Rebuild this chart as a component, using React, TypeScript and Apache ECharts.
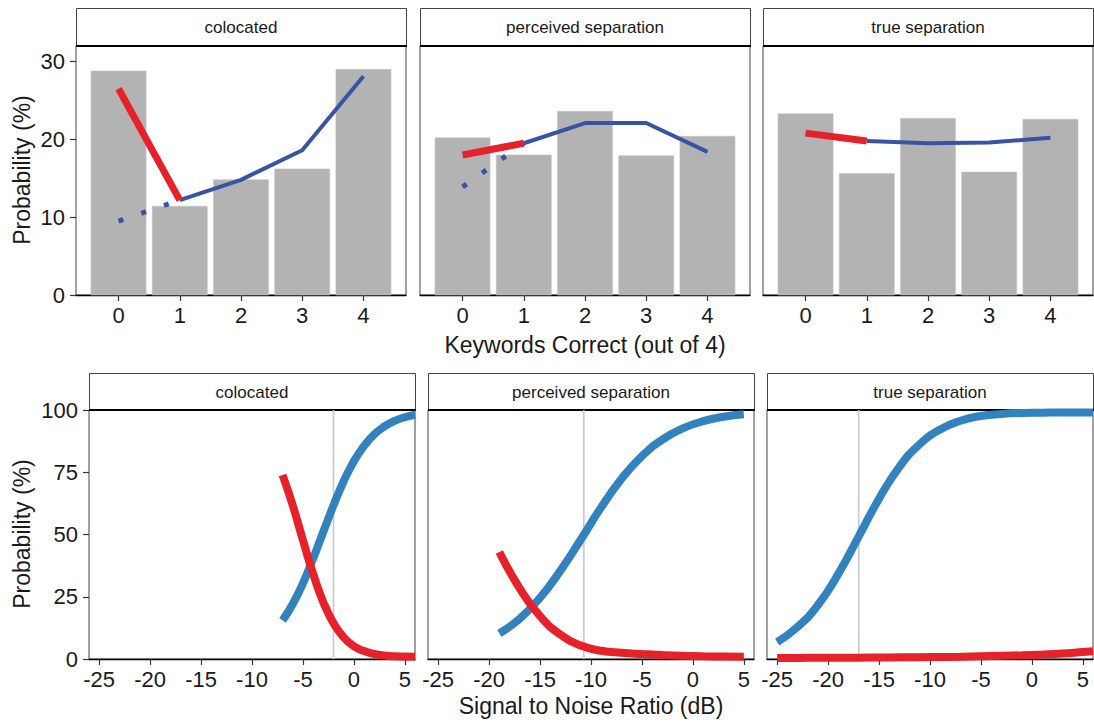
import React, { useEffect, useRef } from "react";
import * as echarts from "echarts";

// ---------- data ----------
const panelNames = ["colocated", "perceived separation", "true separation"];

const keywordCats = [0, 1, 2, 3, 4];
const topYTicks = [0, 10, 20, 30];

const colocatedBars = [28.8, 11.4, 14.8, 16.2, 29.0];
const perceivedBars = [20.2, 18.0, 23.6, 17.9, 20.4];
const trueBars = [23.3, 15.6, 22.7, 15.8, 22.6];

// red segment over keywords 0..1
const redKeys = [0, 1];
const colocatedRed = [26.5, 12.2];
const perceivedRed = [18.0, 19.5];
const trueRed = [20.8, 19.8];

// blue solid over keywords 1..4
const blueKeys = [1, 2, 3, 4];
const colocatedBlue = [12.2, 14.8, 18.6, 28.1];
const perceivedBlue = [19.5, 22.1, 22.1, 18.4];
const trueBlue = [19.8, 19.5, 19.6, 20.2];

// blue dotted over keywords 0..1
const dottedKeys = [0, 1];
const colocatedDotted = [9.5, 12.2];
const perceivedDotted = [13.9, 19.5];

// bottom row: psychometric curves
const snrTicks = [-25, -20, -15, -10, -5, 0, 5];
const bottomYTicks = [0, 25, 50, 75, 100];

const snrColocated = [-7, -6, -5, -4, -3, -2, -1, 0, 1, 2, 3, 4, 5, 6];
const colocatedHigh = [15.5, 22.1, 30.4, 40.3, 51.1, 61.7, 71.4, 79.4, 85.6, 90.2, 93.4, 95.6, 97.1, 98.1];
const colocatedLow = [73.9, 61.7, 47.7, 34.2, 22.8, 14.4, 8.7, 5.1, 3.2, 2.0, 1.4, 1.1, 1.0, 0.9];

const snrPerceived = [-19, -17, -15, -13, -11, -9, -7, -5, -3, -1, 1, 3, 5];
const perceivedHigh = [10.3, 16.2, 24.6, 35.5, 48.0, 60.9, 72.4, 81.5, 88.1, 92.6, 95.5, 97.3, 98.3];
const perceivedLow = [43.0, 28.4, 17.2, 9.8, 5.4, 3.3, 2.5, 2.0, 1.6, 1.3, 1.1, 1.0, 0.9];

const snrTrue = [-25, -23, -21, -19, -17, -15, -13, -11, -9, -7, -5, -3, -1, 1, 3, 5, 6];
const trueHigh = [6.8, 12.9, 21.7, 34.2, 49.2, 64.4, 77.2, 86.3, 92.2, 95.7, 97.6, 98.4, 98.8, 98.9, 99.0, 99.0, 99.0];
const trueLow = [0.4, 0.45, 0.5, 0.5, 0.55, 0.6, 0.7, 0.75, 0.8, 0.9, 1.1, 1.3, 1.5, 1.8, 2.2, 2.8, 3.1];

const thresholds = [-2, -10.7, -17];

// ---------- styles ----------
const FONT = "'Liberation Sans', Arial, sans-serif";
const BAR = "#B3B3B3";
const RED = "#E6212A";
const BLUE_TOP = "#3953A4";
const BLUE_BOT = "#3182BF";
const BORDER = "#444444";
const TEXT = "#1a1a1a";

const topLeft = [76, 420, 763];
const topWidth = 330;
const topStripY = 8;
const topPlotY = 46;
const topPlotH = 249;

const botLeft = [89, 428, 767];
const botWidth = 326;
const botStripY = 373;
const botPlotY = 410;
const botPlotH = 249;

const zip = (xs: number[], ys: number[]) => xs.map((x, i) => [x, ys[i]]);

export default function App() {
  const ref = useRef<HTMLDivElement>(null);

  useEffect(() => {
    if (!ref.current) return;
    const chart = echarts.init(ref.current, null, { renderer: "svg" });

    const grids: any[] = [];
    const xAxes: any[] = [];
    const yAxes: any[] = [];
    const series: any[] = [];
    const graphics: any[] = [];

    const barsAll = [colocatedBars, perceivedBars, trueBars];
    const redAll = [colocatedRed, perceivedRed, trueRed];
    const blueAll = [colocatedBlue, perceivedBlue, trueBlue];
    const dottedAll: (number[] | null)[] = [colocatedDotted, perceivedDotted, null];

    const snrAll = [snrColocated, snrPerceived, snrTrue];
    const highAll = [colocatedHigh, perceivedHigh, trueHigh];
    const lowAll = [colocatedLow, perceivedLow, trueLow];

    const axisLabelBase = { fontSize: 22, color: TEXT, fontFamily: FONT };

    // top row
    for (let p = 0; p < 3; p++) {
      const gi = grids.length;
      grids.push({
        left: topLeft[p], top: topPlotY, width: topWidth, height: topPlotH,
        show: true, borderColor: BORDER, borderWidth: 1, backgroundColor: "transparent",
      });
      xAxes.push({
        type: "value", gridIndex: gi, min: -0.695, max: 4.695, position: "bottom",
        splitLine: { show: false },
        axisLine: { show: true, onZero: false, lineStyle: { color: "#000", width: 1.4 } },
        axisTick: { show: true, length: 6, customValues: keywordCats, lineStyle: { color: "#333", width: 1.2 } },
        axisLabel: { ...axisLabelBase, margin: 9, customValues: keywordCats },
      });
      yAxes.push({
        type: "value", gridIndex: gi, min: 0, max: 32, position: "left",
        splitLine: { show: false },
        axisLine: { show: false, onZero: false },
        axisTick: { show: p === 0, length: 6, customValues: topYTicks, lineStyle: { color: "#333", width: 1.2 } },
        axisLabel: { show: p === 0, ...axisLabelBase, margin: 11, customValues: topYTicks },
      });
      series.push({
        type: "custom", xAxisIndex: gi, yAxisIndex: gi,
        data: zip(keywordCats, barsAll[p]),
        renderItem: (params: any, api: any) => {
          const x = api.value(0);
          const y = api.value(1);
          const a = api.coord([x - 0.45, y]);
          const b = api.coord([x + 0.45, 0]);
          return {
            type: "rect",
            shape: { x: a[0], y: a[1], width: b[0] - a[0], height: b[1] - a[1] },
            style: { fill: BAR, stroke: "#C4C4C4", lineWidth: 0.6 },
          };
        },
      });
      const dotted = dottedAll[p];
      if (dotted) {
        series.push({
          type: "line", xAxisIndex: gi, yAxisIndex: gi, symbol: "none",
          data: zip(dottedKeys, dotted),
          lineStyle: { color: BLUE_TOP, width: 5, type: [5, 19], cap: "butt" },
          z: 3,
        });
      }
      series.push({
        type: "line", xAxisIndex: gi, yAxisIndex: gi, symbol: "none",
        data: zip(blueKeys, blueAll[p]),
        lineStyle: { color: BLUE_TOP, width: 4 },
        z: 3,
      });
      series.push({
        type: "line", xAxisIndex: gi, yAxisIndex: gi, symbol: "none",
        data: zip(redKeys, redAll[p]),
        lineStyle: { color: RED, width: 7, cap: "butt" },
        z: 4,
      });

      // strip
      graphics.push({
        type: "rect", silent: true,
        shape: { x: topLeft[p] + 0.5, y: topStripY + 0.5, width: topWidth, height: topPlotY - topStripY },
        style: { fill: "#fff", stroke: BORDER, lineWidth: 1 },
      });
      graphics.push({
        type: "line", silent: true,
        shape: { x1: topLeft[p], y1: topPlotY, x2: topLeft[p] + topWidth + 1, y2: topPlotY },
        style: { stroke: "#000", lineWidth: 1.8 },
      });
      graphics.push({
        type: "text", silent: true,
        x: topLeft[p] + topWidth / 2, y: (topStripY + topPlotY) / 2 + 0.5,
        style: { text: panelNames[p], fontSize: 17, fontFamily: FONT, fill: TEXT, align: "center", verticalAlign: "middle" },
      });
    }

    // bottom row
    for (let p = 0; p < 3; p++) {
      const gi = grids.length;
      grids.push({
        left: botLeft[p], top: botPlotY, width: botWidth, height: botPlotH,
        show: true, borderColor: BORDER, borderWidth: 1, backgroundColor: "transparent",
      });
      xAxes.push({
        type: "value", gridIndex: gi, min: -26, max: 6, position: "bottom",
        splitLine: { show: false },
        axisLine: { show: true, onZero: false, lineStyle: { color: "#000", width: 1.4 } },
        axisTick: { show: true, length: 6, customValues: snrTicks, lineStyle: { color: "#333", width: 1.2 } },
        axisLabel: { ...axisLabelBase, margin: 9, customValues: snrTicks },
      });
      yAxes.push({
        type: "value", gridIndex: gi, min: 0, max: 100, position: "left",
        splitLine: { show: false },
        axisLine: { show: false, onZero: false },
        axisTick: { show: p === 0, length: 6, customValues: bottomYTicks, lineStyle: { color: "#333", width: 1.2 } },
        axisLabel: { show: p === 0, ...axisLabelBase, margin: 11, customValues: bottomYTicks },
      });
      series.push({
        type: "line", xAxisIndex: gi, yAxisIndex: gi, symbol: "none",
        data: [[thresholds[p], 0], [thresholds[p], 100]],
        lineStyle: { color: "#C8C8C8", width: 1.6 },
        z: 1,
      });
      series.push({
        type: "line", xAxisIndex: gi, yAxisIndex: gi, symbol: "none", smooth: true,
        data: zip(snrAll[p], highAll[p]),
        lineStyle: { color: BLUE_BOT, width: 8, cap: "butt" },
        z: 3,
      });
      series.push({
        type: "line", xAxisIndex: gi, yAxisIndex: gi, symbol: "none", smooth: true,
        data: zip(snrAll[p], lowAll[p]),
        lineStyle: { color: RED, width: 8, cap: "butt" },
        z: 4,
      });

      graphics.push({
        type: "rect", silent: true,
        shape: { x: botLeft[p] + 0.5, y: botStripY + 0.5, width: botWidth, height: botPlotY - botStripY },
        style: { fill: "#fff", stroke: BORDER, lineWidth: 1 },
      });
      graphics.push({
        type: "line", silent: true,
        shape: { x1: botLeft[p], y1: botPlotY, x2: botLeft[p] + botWidth + 1, y2: botPlotY },
        style: { stroke: "#000", lineWidth: 1.8 },
      });
      graphics.push({
        type: "text", silent: true,
        x: botLeft[p] + botWidth / 2, y: (botStripY + botPlotY) / 2 + 0.5,
        style: { text: panelNames[p], fontSize: 17, fontFamily: FONT, fill: TEXT, align: "center", verticalAlign: "middle" },
      });
    }

    // axis titles
    const titleStyle = { fontSize: 23, fontFamily: FONT, fill: TEXT, align: "center", verticalAlign: "middle" };
    graphics.push({ type: "text", silent: true, x: 585, y: 345, style: { ...titleStyle, text: "Keywords Correct (out of 4)" } });
    graphics.push({ type: "text", silent: true, x: 591, y: 706, style: { ...titleStyle, text: "Signal to Noise Ratio (dB)" } });
    graphics.push({ type: "text", silent: true, x: 22, y: 170, rotation: Math.PI / 2, style: { ...titleStyle, text: "Probability (%)" } });
    graphics.push({ type: "text", silent: true, x: 22, y: 534, rotation: Math.PI / 2, style: { ...titleStyle, text: "Probability (%)" } });

    chart.setOption({
      animation: false,
      backgroundColor: "#ffffff",
      textStyle: { fontFamily: FONT },
      grid: grids,
      xAxis: xAxes,
      yAxis: yAxes,
      series,
      graphic: { elements: graphics },
    });

    return () => chart.dispose();
  }, []);

  return (
    <div
      ref={ref}
      style={{ position: "absolute", left: 0, top: 0, width: 1094, height: 726, background: "#fff" }}
    />
  );
}
